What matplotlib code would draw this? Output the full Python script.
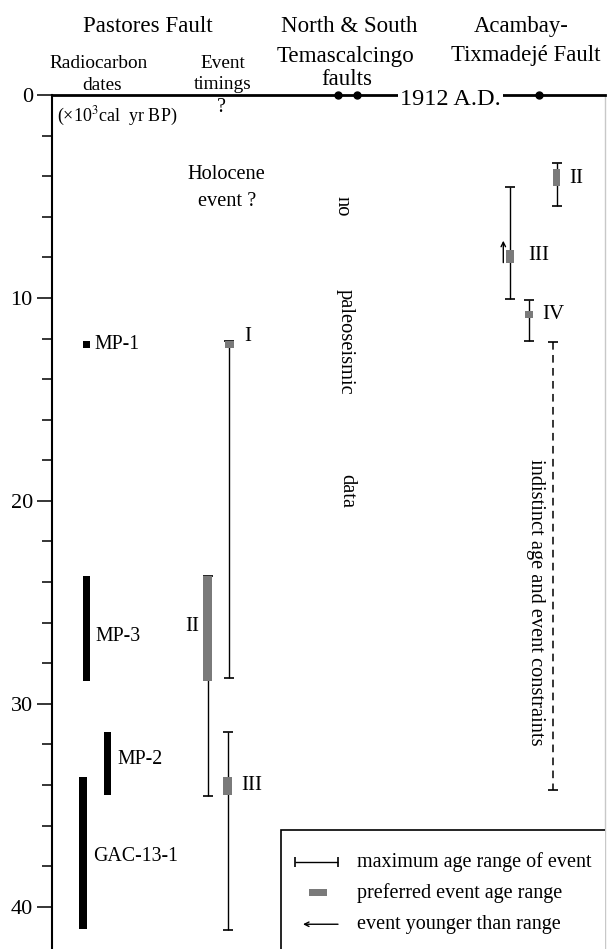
import numpy as np
import matplotlib
matplotlib.use('Agg')
import matplotlib.pyplot as plt
from matplotlib.patches import Rectangle

plt.rcParams['font.family'] = ['Liberation Serif', 'DejaVu Serif']
plt.rcParams['mathtext.fontset'] = 'stix'

# radiocarbon dates, Pastores fault (x10^3 cal yr BP)
date_names = ['MP-1', 'MP-3', 'MP-2', 'GAC-13-1']
date_young = [12.1, 23.7, 31.4, 33.6]
date_old = [12.45, 28.85, 34.5, 41.1]
date_label_y = [12.27, 26.7, 32.76, 37.5]

# Pastores fault events
past_events = ['I', 'II', 'III']
past_max_young = [12.1, 23.7, 31.4]
past_max_old = [28.73, 34.56, 41.13]
past_pref_young = [12.1, 23.7, 33.6]
past_pref_old = [12.47, 28.85, 34.5]
past_label_y = [11.9, 26.2, 34.0]

# Acambay-Tixmadeje fault events
acam_events = ['II', 'III', 'IV']
acam_max_young = [3.33, 4.55, 10.1]
acam_max_old = [5.47, 10.07, 12.1]
acam_pref_young = [3.66, 7.64, 10.63]
acam_pref_old = [4.48, 8.29, 11.0]
acam_label_y = [4.1, 7.93, 10.84]
acam_indistinct = [12.17, 34.24]
acam_arrow = [8.26, 7.18]   # event III younger than range

hist_age = 0.0   # 1912 A.D.

# layout (x in pixel-like units of the column layout)
W, H = 607, 949
date_x = [86.5, 86.3, 107.7, 82.7]
date_w = [6.5, 7.3, 7.3, 8.0]
date_label_x = [94, 95, 117, 92.7]
past_x = [229.3, 207.7, 227.7]
past_label_x = [247.7, 199, 241.7]
past_label_ha = ['center', 'right', 'left']
acam_x = [556.7, 510, 529]
acam_label_x = [569, 528.3, 542.7]
dash_x = 552.7
arrow_x = 503.3
dot_x = [338.3, 356.7, 538.7]
gray = '#7a7a7a'

fig = plt.figure(figsize=(W / 100, H / 100), dpi=100)
ax = fig.add_axes([52 / W, 0, (605 - 52) / W, (H - 95) / H])
ax.set_xlim(52, 605)
ax.set_ylim(42.08, 0)

for s in ['bottom']:
	ax.spines[s].set_visible(False)
ax.spines['left'].set_linewidth(1.5)
ax.spines['top'].set_linewidth(2)
ax.spines['right'].set_color('#c8c8c8')
ax.spines['right'].set_linewidth(1)

ax.set_xticks([])
ax.set_yticks([0, 10, 20, 30, 40])
ax.set_yticks(np.arange(0, 42, 2), minor=True)
ax.tick_params(axis='y', which='major', direction='out', length=10.8, width=1.1, labelsize=16, pad=3)
ax.tick_params(axis='y', which='minor', direction='out', length=7.2, width=1.1)

# radiocarbon dates
ax.bar(date_x, np.subtract(date_old, date_young), bottom=date_young, width=date_w, color='black', zorder=3)
for i, name in enumerate(date_names):
	ax.text(date_label_x[i], date_label_y[i], name, fontsize=14.3, ha='left', va='center')

# Pastores events
p_mid = (np.array(past_max_young) + np.array(past_max_old)) / 2
p_half = (np.array(past_max_old) - np.array(past_max_young)) / 2
ax.errorbar(past_x, p_mid, yerr=p_half, fmt='none', ecolor='black', elinewidth=1, capsize=3.3, capthick=1.2, zorder=2)
ax.bar(past_x, np.subtract(past_pref_old, past_pref_young), bottom=past_pref_young, width=8.5, color=gray, zorder=3)
for i, ev in enumerate(past_events):
	ax.text(past_label_x[i], past_label_y[i], ev, fontsize=15, ha=past_label_ha[i], va='center')

# Acambay events
a_mid = (np.array(acam_max_young) + np.array(acam_max_old)) / 2
a_half = (np.array(acam_max_old) - np.array(acam_max_young)) / 2
ax.errorbar(acam_x, a_mid, yerr=a_half, fmt='none', ecolor='black', elinewidth=1, capsize=3.3, capthick=1.2, zorder=2)
ax.bar(acam_x, np.subtract(acam_pref_old, acam_pref_young), bottom=acam_pref_young, width=7.5, color=gray, zorder=3)
for i, ev in enumerate(acam_events):
	ax.text(acam_label_x[i], acam_label_y[i], ev, fontsize=15, ha='left', va='center')

ax.vlines(dash_x, acam_indistinct[0], acam_indistinct[1], colors='black', linewidth=1.1, linestyles=(0, (5, 3.5)))
ax.plot([dash_x, dash_x], acam_indistinct, ls='none', marker='_', ms=7, mew=1.2, color='black')
ax.annotate('', xy=(arrow_x, acam_arrow[1]), xytext=(arrow_x, acam_arrow[0]),
	arrowprops=dict(arrowstyle='->', lw=1, color='black', shrinkA=0, shrinkB=0, mutation_scale=8))
ax.text(535, 25.0, 'indistinct age and event constraints', fontsize=14.7, rotation=-90, ha='center', va='center')

# 1912 rupture
ax.plot(dot_x, [hist_age] * len(dot_x), 'o', color='black', ms=5, clip_on=False, zorder=5)
ax.text(450.4, hist_age + 0.49, '1912 A.D.', fontsize=17.5, ha='center', va='baseline', zorder=6,
	bbox=dict(facecolor='white', edgecolor='none', pad=1.5))

# other texts inside the panel
ax.text(221.7, 0.64, '?', fontsize=14.5, ha='center', va='center')
ax.text(56.7, 1.05, r'(×10$^3$cal  yr BP)', fontsize=13, ha='left', va='center')
ax.text(226.7, 3.94, 'Holocene', fontsize=14.7, ha='center', va='center')
ax.text(226.7, 5.26, 'event ?', fontsize=14.7, ha='center', va='center')
ax.text(342.5, 5.47, 'no', fontsize=14.8, rotation=-90, ha='center', va='center')
ax.text(345.5, 12.16, 'paleoseismic', fontsize=14.8, rotation=-90, ha='center', va='center')
ax.text(346.7, 19.5, 'data', fontsize=14.8, rotation=-90, ha='center', va='center')

# legend box
ax.add_patch(Rectangle((281, 36.22), 400, 10, facecolor='white', edgecolor='black', lw=1.2, zorder=4))
leg_y = [37.78, 39.31, 40.86]
ax.errorbar(316.5, leg_y[0], xerr=21.5, fmt='none', ecolor='black', elinewidth=1, capsize=3.3, capthick=1.2, zorder=5)
ax.barh(leg_y[1], 18, left=309, height=0.33, color=gray, zorder=5)
ax.annotate('', xy=(303, leg_y[2]), xytext=(338, leg_y[2]),
	arrowprops=dict(arrowstyle='->', lw=1, color='black', shrinkA=0, shrinkB=0, mutation_scale=8), zorder=5)
leg_txt = ['maximum age range of event', 'preferred event age range', 'event younger than range']
for i, t in enumerate(leg_txt):
	ax.text(357, leg_y[i], t, fontsize=14.5, ha='left', va='center', zorder=5)

# column headers
def ftext(x, y, s, size):
	fig.text(x / W, 1 - y / H, s, fontsize=size, ha='center', va='baseline')

ftext(148, 32, 'Pastores Fault', 16.6)
ftext(99, 68.3, 'Radiocarbon', 13.9)
ftext(101.7, 90, 'dates', 13.9)
ftext(222.5, 68.3, 'Event', 13.9)
ftext(223, 89.3, 'timings', 13.9)
ftext(349, 32, 'North & South', 16.6)
ftext(345.5, 62, 'Temascalcingo', 16.6)
ftext(346.7, 85, 'faults', 16.6)
ftext(520.8, 32, 'Acambay-', 16.4)
ftext(525.4, 61, 'Tixmadejé Fault', 16.4)

fig.savefig('out.png', dpi=100)
